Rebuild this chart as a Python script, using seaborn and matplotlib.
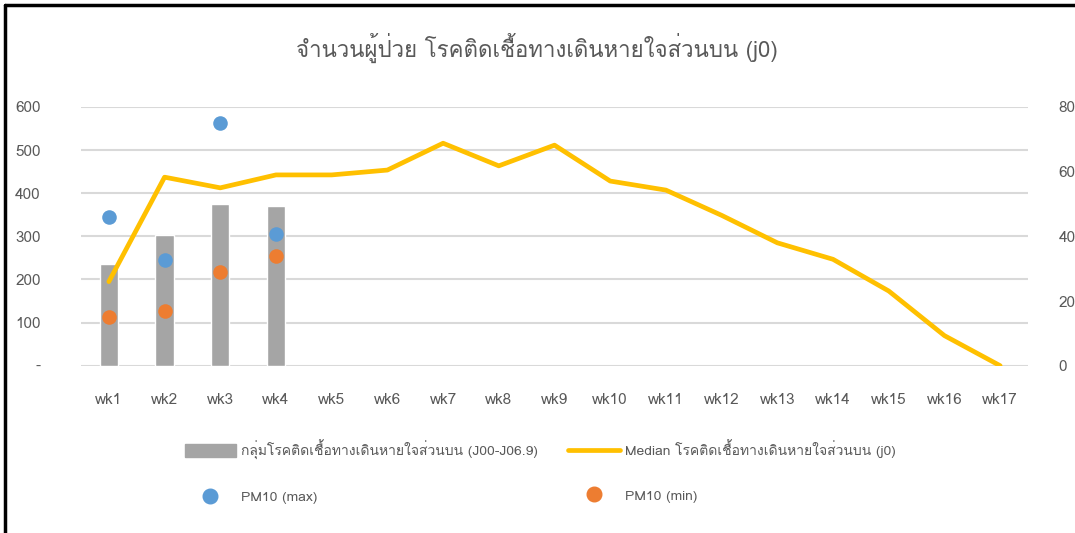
import numpy as np
import pandas as pd
import matplotlib
matplotlib.use('Agg')
import matplotlib.pyplot as plt
import seaborn as sns
from matplotlib import font_manager, ft2font
from matplotlib.lines import Line2D
from matplotlib.patches import Patch

# data
weeks = ['wk1', 'wk2', 'wk3', 'wk4', 'wk5', 'wk6', 'wk7', 'wk8', 'wk9',
         'wk10', 'wk11', 'wk12', 'wk13', 'wk14', 'wk15', 'wk16', 'wk17']
cases = [236, 303, 375, 370]
pm10_max = [345, 246, 563, 306]
pm10_min = [112, 128, 217, 255]
median = [26, 58.3, 55, 59, 59, 60.5, 68.8, 61.8, 68.2, 57.1, 54.3, 46.5,
          38, 32.9, 23.1, 9.3, 0]
left_ticks = [0, 100, 200, 300, 400, 500, 600]
left_labels = ['-', '100', '200', '300', '400', '500', '600']
right_ticks = [0, 20, 40, 60, 80]

title = 'จำนวนผู้ป่วย โรคติดเชื้อทางเดินหายใจส่วนบน (j0)'
lbl_cases = 'กลุ่มโรคติดเชื้อทางเดินหายใจส่วนบน (J00-J06.9)'
lbl_median = 'Median โรคติดเชื้อทางเดินหายใจส่วนบน (j0)'
lbl_max = 'PM10 (max)'
lbl_min = 'PM10 (min)'

# find some installed font that has thai glyphs
thai = None
for f in font_manager.fontManager.ttflist:
    try:
        if 0x0E01 in ft2font.FT2Font(f.fname).get_charmap():
            thai = f.name
            break
    except Exception:
        pass

sns.set_style('white')
fams = ['DejaVu Sans']
if thai:
    fams = [thai, 'DejaVu Sans']
plt.rcParams['font.family'] = fams

txt = '#595959'
grid = '#d9d9d9'

fig = plt.figure(figsize=(10.75, 5.33), dpi=100)
ax = fig.add_axes([81 / 1075, 1 - 365.7 / 533, (1028 - 81) / 1075, (365.7 - 107) / 533])

df = pd.DataFrame({'week': weeks[:len(cases)], 'cases': cases})
sns.barplot(data=df, x='week', y='cases', order=weeks, color='#a5a5a5',
            saturation=1, width=0.33, ax=ax, zorder=2)
sns.scatterplot(x=np.arange(len(pm10_max)), y=pm10_max, color='#5b9bd5',
                s=110, linewidth=0, ax=ax, zorder=3)
sns.scatterplot(x=np.arange(len(pm10_min)), y=pm10_min, color='#ed7d31',
                s=110, linewidth=0, ax=ax, zorder=3)

ax.set_ylim(0, 600)
ax.set_xlim(-0.5, len(weeks) - 0.5)
ax.set_yticks(left_ticks)
ax.set_yticklabels(left_labels)
ax.yaxis.grid(True, color=grid, linewidth=1.5, zorder=0)
ax.set_axisbelow(True)
ax.set_xlabel('')
ax.set_ylabel('')
ax.tick_params(axis='y', length=0, pad=29, labelsize=11, labelcolor=txt)
ax.tick_params(axis='x', length=0, pad=20, labelsize=11, labelcolor=txt)
sns.despine(ax=ax, left=True, bottom=True)

ax2 = ax.twinx()
sns.lineplot(x=np.arange(len(median)), y=median, color='#ffc000',
             linewidth=3.4, ax=ax2)
ax2.set_ylim(0, 80)
ax2.set_yticks(right_ticks)
ax2.tick_params(axis='y', length=0, pad=22, labelsize=11, labelcolor=txt)
ax2.set_ylabel('')
sns.despine(ax=ax2, left=True, bottom=True, right=True)
ax2.grid(False)

fig.text(537 / 1075, 1 - 48 / 533, title, ha='center', va='center',
         fontsize=16, color=txt)

handles = [Patch(color='#a5a5a5'),
           Line2D([], [], marker='o', color='#5b9bd5', linestyle='', markersize=10.5),
           Line2D([], [], color='#ffc000', linewidth=3.4),
           Line2D([], [], marker='o', color='#ed7d31', linestyle='', markersize=10.5)]
labels = [lbl_cases, lbl_max, lbl_median, lbl_min]
fig.legend(handles, labels, ncol=2, loc='upper center',
           bbox_to_anchor=(540 / 1075, 1 - 427 / 533), frameon=False,
           fontsize=10, labelcolor=txt, handlelength=3.7, handleheight=1.0,
           handletextpad=0.35, columnspacing=2.2, labelspacing=2.2)

# black frame on left and top, as in the cropped screenshot
fig.add_artist(Line2D([5 / 1075, 5 / 1075], [0, 1 - 5 / 533], color='black', linewidth=2.5))
fig.add_artist(Line2D([5 / 1075, 1], [1 - 5 / 533, 1 - 5 / 533], color='black', linewidth=2.5))

fig.savefig('out.png', dpi=100)
